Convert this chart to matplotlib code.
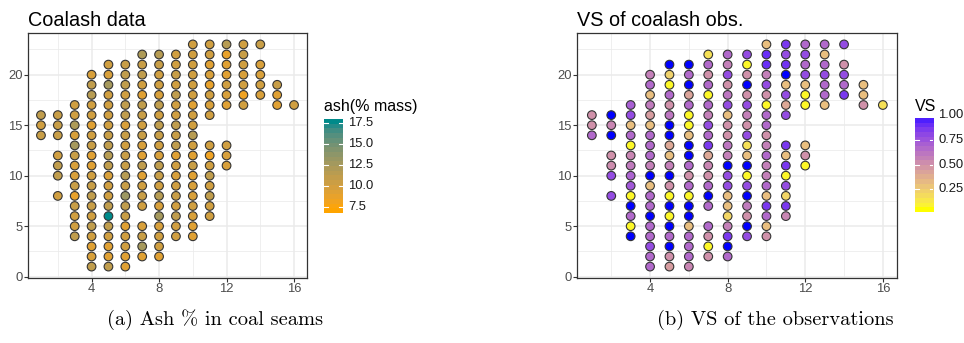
import numpy as np
import matplotlib
matplotlib.use("Agg")
import matplotlib.pyplot as plt
from matplotlib.colors import ListedColormap, Normalize

# ---------------- data ----------------
NA = np.nan
cols_y = {
    1: [14, 15, 16],
    2: [8, 10, 11, 12, 14, 15, 16],
    3: list(range(4, 18)),
    4: list(range(1, 21)),
    5: list(range(1, 22)),
    6: list(range(1, 22)),
    7: [2, 3, 4, 5] + list(range(7, 23)),
    8: list(range(2, 23)),
    9: list(range(4, 23)),
    10: list(range(4, 24)),
    11: list(range(6, 14)) + list(range(16, 24)),
    12: [11, 12, 13] + list(range(17, 24)),
    13: list(range(17, 24)),
    14: [18, 19, 20, 21, 23],
    15: [17, 18, 19],
    16: [17],
}
ash_cols = {
    1: [10.5, 10, 11],
    2: [10, 11, 11, 10, 10.5, 10.5, 10.5],
    3: [11, 10, 10, 10.5, 8.5, 10.5, 9.5, 9.5, 10.5, 12.5, 9.5, 12, 10, 10],
    4: [11, 9.5, 9, 10, 11, 10, 10.5, 11, 10.5, 10, 9, 9, 10.5, 10, 9, 10, 10, 11.5, 11, 9.5],
    5: [11, 9, 9, 10, 11, 17.61, 11, 10, 10, 9.5, 11, 11.5, 11, 10.5, 10, 10, 10, 10, 12.5, 9.5, 10],
    6: [9, 9, 10, 10, 9, 10.5, 11, 13, 10.5, 11.5, 10.5, 10.5, 10, 10.5, 9.5, 11, 11, 10, 11, 11, 10.5],
    7: [9, 12.5, 10.5, 9.5, 10, 10.5, 10, 9, 11, 9, 9.5, 10.5, 10, 10.5, 11, 9, 10, 11, 10.5, 12],
    8: [9, 10, 10, 9.5, 12.5, 9.5, 11.5, 10, 10.5, 11, 9.5, 10, 10.5, 11, 10, 11, 9.5, 10, 10, 10.5, 11.5],
    9: [10, 10, 11, 10, 10.5, 10, 9.5, 10, 9, 11, 10.5, 11, 10, 10, 11, 10, 10.5, 10, 10],
    10: [9, 9, 9.5, 10, 9.5, 9.5, 9, 10.5, 9, 10, 11.5, 10, 10, 9, 10, 10, 10, 10, 10, 10],
    11: [10, 10, 11, 10, 11, 10, 8, 10, 10, 9.5, 10, 8.5, 9.5, 9, 10, 10],
    12: [9.5, 9.5, 10, 9, 9.5, 10, 9, 9, 8.5, 11.5],
    13: [10, 8, 10, 9.5, 10, 10.5, 10],
    14: [9.5, 10, 9.5, 9.5, 10.5],
    15: [9, 9, 10.5],
    16: [10],
}
vs_cols = {
    1: [.68, .5, .5],
    2: [.8, .8, .52, .5, NA, .55, NA],
    3: [NA, .05, .68, NA, .05, .75, .7, .6, .55, .05, .68, .3, .8, .72],
    4: [.68, .68, .8, .68, .68, NA, .68, .68, .3, NA, .58, .68, .68, .68, .3, .45, .6, .3, .68, .58],
    5: [.45, .5, NA, .68, NA, .05, NA, .05, .5, NA, .58, .3, .4, NA, NA, .62, .5, .68, .05, .22, NA],
    6: [.55, .68, .68, .68, .3, NA, NA, .05, .68, .5, .68, NA, NA, .3, .05, .05, .68, .42, NA, .68, NA],
    7: [.5, .05, .5, .68, .68, NA, .68, .5, .55, .4, .88, .68, .8, .58, .68, .05, .68, .5, .68, .15],
    8: [.68, NA, .88, .58, .2, .3, .3, .8, .8, NA, .58, .62, .5, .5, .3, .8, .62, .5, .8, .58, .68],
    9: [.8, NA, .5, .6, NA, .8, .05, NA, .3, .15, .8, .5, .58, .8, .5, NA, .5, .05, .8],
    10: [.5, .3, .68, .88, .3, .68, .58, .58, .68, .58, .5, .68, .68, .05, .5, .8, .58, .92, .92, .3],
    11: [.55, .88, .2, .8, .05, .88, .3, .88, .8, .4, .8, .3, NA, .9, .8, .88],
    12: [.05, .5, .3, .05, .05, .3, .8, .68, .8, .68],
    13: [.3, .68, .68, .8, .68, .3, .68],
    14: [.88, .68, .8, .5, .8],
    15: [.5, .3, .3],
    16: [.15],
}
x = np.concatenate([[c] * len(cols_y[c]) for c in cols_y])
y = np.concatenate([cols_y[c] for c in cols_y])
ash = np.concatenate([ash_cols[c] for c in cols_y])
vs = np.concatenate([vs_cols[c] for c in cols_y])

ash_breaks = [7.5, 10.0, 12.5, 15.0, 17.5]
vs_breaks = [0.25, 0.50, 0.75, 1.00]
x_breaks = [4, 8, 12, 16]
y_breaks = [0, 5, 10, 15, 20]

# ---------------- colour ramps in CIELAB (like ggplot) ----------------
M = np.array([[0.4124564, 0.3575761, 0.1804375],
              [0.2126729, 0.7151522, 0.0721750],
              [0.0193339, 0.1191920, 0.9503041]])
WP = np.array([0.95047, 1.0, 1.08883])

def hex2rgb(h):
    h = h.lstrip('#')
    return np.array([int(h[i:i + 2], 16) / 255 for i in (0, 2, 4)])

def rgb2lab(c):
    lin = np.where(c <= 0.04045, c / 12.92, ((c + 0.055) / 1.055) ** 2.4)
    xyz = M @ lin / WP
    d = 6 / 29
    f = np.where(xyz > d ** 3, np.cbrt(xyz), xyz / (3 * d * d) + 4 / 29)
    return np.array([116 * f[1] - 16, 500 * (f[0] - f[1]), 200 * (f[1] - f[2])])

def lab2rgb(lab):
    L, a, b = lab
    fy = (L + 16) / 116
    fx = fy + a / 500
    fz = fy - b / 200
    d = 6 / 29
    f = np.array([fx, fy, fz])
    xyz = np.where(f > d, f ** 3, 3 * d * d * (f - 4 / 29)) * WP
    lin = np.linalg.solve(M, xyz)
    lin = np.clip(lin, 0, 1)
    c = np.where(lin <= 0.0031308, 12.92 * lin, 1.055 * lin ** (1 / 2.4) - 0.055)
    return np.clip(c, 0, 1)

def lab_cmap(lo, hi, n=256):
    l1, l2 = rgb2lab(hex2rgb(lo)), rgb2lab(hex2rgb(hi))
    return ListedColormap([lab2rgb(l1 + (l2 - l1) * t) for t in np.linspace(0, 1, n)])

cmap_ash = lab_cmap('#FFA500', '#008B8B')
cmap_vs = lab_cmap('#FFFF00', '#4F1FFF')
cmap_vs.set_bad('#0000FF')
norm_ash = Normalize(7.0, 17.61)
norm_vs = Normalize(0.02, 0.97)

# ---------------- figure ----------------
W, H = 964, 343
fig = plt.figure(figsize=(W / 100, H / 100), dpi=100)
SANS = ['Liberation Sans', 'DejaVu Sans']

def px_axes(l, t, r, b):
    return fig.add_axes([l / W, 1 - b / H, (r - l) / W, (b - t) / H])

def style_panel(ax):
    ax.set_xlim(0.25, 16.75)
    ax.set_ylim(-0.1, 24.1)
    ax.set_xticks(x_breaks)
    ax.set_yticks(y_breaks)
    ax.set_xticks([2, 6, 10, 14], minor=True)
    ax.set_yticks([2.5, 7.5, 12.5, 17.5, 22.5], minor=True)
    ax.grid(True, which='major', color='#EBEBEB', lw=1.1, zorder=0)
    ax.grid(True, which='minor', color='#EBEBEB', lw=0.55, zorder=0)
    ax.set_axisbelow(True)
    ax.tick_params(which='minor', length=0)
    ax.tick_params(which='major', length=2.6, width=0.8, color='#333333',
                   labelsize=9.4, labelcolor='#4D4D4D', pad=1.5)
    for lab in ax.get_xticklabels() + ax.get_yticklabels():
        lab.set_family(SANS)
    for s in ax.spines.values():
        s.set_color('#333333')
        s.set_linewidth(0.9)

def colorbar(l, t, r, b, cmap, norm, lo, hi, breaks, fmt):
    cax = px_axes(l, t, r, b)
    vals = np.linspace(lo, hi, 20)
    img = cmap(norm(np.clip(vals, norm.vmin, norm.vmax)))[:, None, :]
    cax.imshow(img, extent=[0, 1, lo, hi], origin='lower', aspect='auto')
    cax.set_xlim(0, 1)
    cax.set_ylim(lo, hi)
    for v in breaks:
        if lo <= v <= hi:
            cax.plot([0, 0.2], [v, v], color='white', lw=0.8)
            cax.plot([0.8, 1], [v, v], color='white', lw=0.8)
        cax.text(1.28, v, fmt.format(v), transform=cax.get_yaxis_transform(),
                 va='center', ha='left', fontsize=9.4, color='#1A1A1A', family=SANS,
                 clip_on=False)
    cax.set_xticks([])
    cax.set_yticks([])
    for s in cax.spines.values():
        s.set_visible(False)
    return cax

# left panel
ax1 = px_axes(28.3, 33.3, 306.7, 277.7)
style_panel(ax1)
ax1.scatter(x, y, c=ash, cmap=cmap_ash, norm=norm_ash, s=39, edgecolors='#333333',
            linewidths=0.8, zorder=3)
fig.text(28.3 / W, 1 - 26 / H, 'Coalash data', fontsize=14.3, family=SANS,
         ha='left', va='baseline', color='black')
fig.text(324 / W, 1 - 110.5 / H, 'ash(% mass)', fontsize=11.5, family=SANS,
         ha='left', va='baseline', color='black')
colorbar(324, 119.3, 343, 213.3, cmap_ash, norm_ash, 6.72, 17.89, ash_breaks, '{:.1f}')

# right panel
ax2 = px_axes(577.3, 33.3, 897.4, 277.7)
style_panel(ax2)
ax2.scatter(x, np.asarray(y), c=np.ma.masked_invalid(vs), cmap=cmap_vs, norm=norm_vs, s=39,
            edgecolors='#333333', linewidths=0.8, zorder=3, plotnonfinite=True)
fig.text(577.3 / W, 1 - 26 / H, 'VS of coalash obs.', fontsize=14.3, family=SANS,
         ha='left', va='baseline', color='black')
fig.text(915 / W, 1 - 110.7 / H, 'VS', fontsize=11.5, family=SANS,
         ha='left', va='baseline', color='black')
colorbar(915, 118.3, 933.3, 211.7, cmap_vs, norm_vs, 0.023, 0.969, vs_breaks, '{:.2f}')

# sub-captions (LaTeX-like serif)
fig.text(215 / W, 1 - 320 / H, '(a) Ash % in coal seams', fontsize=14.7,
         family=['cmr10', 'DejaVu Serif'], ha='center', va='center')
fig.text(775 / W, 1 - 320 / H, '(b) VS of the observations', fontsize=14.7,
         family=['cmr10', 'DejaVu Serif'], ha='center', va='center')

fig.savefig('out.png', dpi=100)
